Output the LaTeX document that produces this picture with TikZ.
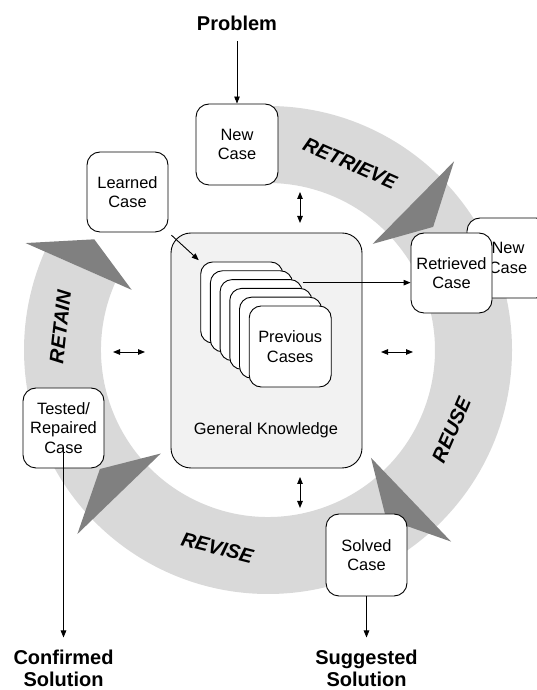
\documentclass[tikz,border=0pt]{standalone}
\usepackage{fontspec}
\setmainfont{Liberation Sans}
\usetikzlibrary{arrows.meta, positioning, calc}
\definecolor{ringFill}{RGB}{217,217,217}
\definecolor{headFill}{RGB}{128,128,128}
\definecolor{kbFill}{RGB}{242,242,242}

\begin{document}
\begin{tikzpicture}[x=1pt, y=1pt,
        casebox/.style={rectangle, draw, line width=0.9pt, fill=white, rounded corners=13pt, minimum width=81pt, minimum height=80pt, inner sep=0pt, align=center, font=\fontsize{16.4}{19.5}\selectfont},
        card/.style={casebox, rounded corners=12pt, minimum width=82pt, minimum height=81pt},
        kbbox/.style={rectangle, draw, line width=0.9pt, fill=kbFill, rounded corners=20pt, minimum width=191pt, minimum height=235pt},
        io/.style={font=\bfseries\fontsize{20}{22.5}\selectfont, align=center, inner sep=0pt},
        phase/.style={font=\bfseries\itshape\fontsize{20}{24}\selectfont, inner sep=0pt},
        txt/.style={font=\fontsize{16.4}{19.5}\selectfont, inner sep=0pt},
        arr/.style={-{Triangle[length=7pt, width=5.5pt]}, line width=0.9pt},
        darr/.style={{Triangle[length=7pt, width=5.5pt]}-{Triangle[length=7pt, width=5.5pt]}, line width=0.9pt},
    ]
    \useasboundingbox (0,0) rectangle (537,690);
    \coordinate (C) at (268,340);
    % the cycle ring and its four heads
    \fill[ringFill] ($(C)+(90:244)$) arc[start angle=90, end angle=-203.8, radius=244]
        -- ($(C)+(-203.8:167)$) arc[start angle=-203.8, end angle=90, radius=167] -- cycle;
    \foreach \a in {45.4,-46.3,-136,156.2}
        \fill[headFill] ($(C)+(\a:149)$) -- ($(C)+(\a:265)$) -- ($(C)+({\a-8.7}:206)$) -- cycle;
    \node[phase, rotate=-24] (retrieve) at ($(C)+(66.3:204)$) {RETRIEVE};
    \node[phase, rotate=66.5] (reuse) at ($(C)+(-23.5:200)$) {REUSE};
    \node[phase, rotate=-14.4] (revise) at ($(C)+(-104.4:204)$) {REVISE};
    \node[phase, rotate=83.7] (retain) at ($(C)+(173.7:209)$) {RETAIN};
    % knowledge base
    \node[kbbox] (kb) at (266.5,339.5) {};
    \foreach \k in {0,...,4}
        \node[card] (card\k) at ({241.7+9.7*\k},{387.5-8.8*\k}) {};
    \node[card] (prev) at (290.2,343.5) {Previous\\Cases};
    \node[txt, anchor=base] (kbtext) at (266,255) {General Knowledge};
    % cases round the cycle
    \node[casebox, minimum width=82pt, minimum height=81pt] (newcase) at (237,545.5) {New\\Case};
    \node[casebox] (learned) at (127.5,498) {Learned\\Case};
    \node[casebox, minimum width=82pt] (ghost) at (508,432) {New\\Case};
    \node[casebox] (retrieved) at (451.5,417) {Retrieved\\Case};
    \node[casebox, minimum height=82pt] (solved) at (366.5,135) {Solved\\Case};
    \node[casebox] (tested) at (63.5,262) {Tested/\\Repaired\\Case};
    % inputs and outputs
    \node[io, anchor=base] (problem) at (237,659) {Problem};
    \node[io, anchor=north] (confirmed) at (63.5,40.5) {Confirmed\\Solution};
    \node[io, anchor=north] (suggested) at (366.5,40.5) {Suggested\\Solution};
    \draw[arr, shorten <=10pt] (problem.south) -- (newcase.north);
    \draw[arr, shorten <=4pt, shorten >=2pt] (learned.south east) -- (card0.north west);
    \coordinate (fromcases) at ([yshift=-3.5pt]card2.north east);
    \draw[arr] (fromcases) -- (fromcases -| retrieved.west);
    \draw[arr, shorten >=12pt] (solved.south) -- (suggested.north);
    \draw[arr, shorten >=12pt] ([yshift=-19pt]tested.center) -- (confirmed.north);
    % links between the cycle and the knowledge
    \coordinate (topA) at (300,498);
    \coordinate (topB) at (300,467);
    \coordinate (botA) at (300,213);
    \coordinate (botB) at (300,182);
    \coordinate (leftA) at (113,338);
    \coordinate (leftB) at (145,338);
    \coordinate (rightA) at (381,338);
    \coordinate (rightB) at (413,338);
    \draw[darr] (topA) -- (topB);
    \draw[darr] (botA) -- (botB);
    \draw[darr] (leftA) -- (leftB);
    \draw[darr] (rightA) -- (rightB);
\end{tikzpicture}
\end{document}
